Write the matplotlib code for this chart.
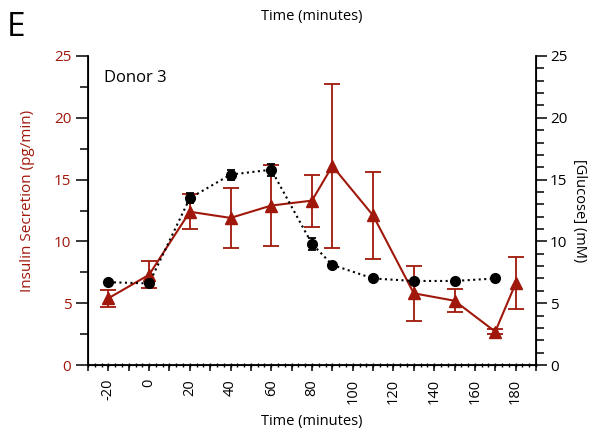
import numpy as np
import matplotlib
matplotlib.use("Agg")
import matplotlib.pyplot as plt
from matplotlib.ticker import MultipleLocator, FixedLocator

plt.rcParams['font.family'] = ['Open Sans', 'DejaVu Sans']

# insulin secretion (pg/min), donor 3
ins_time = [-20, 0, 20, 40, 60, 80, 90, 110, 130, 150, 170, 180]
ins_val = [5.4, 7.3, 12.4, 11.9, 12.9, 13.3, 16.1, 12.1, 5.8, 5.2, 2.7, 6.6]
ins_err = [0.7, 1.1, 1.4, 2.4, 3.3, 2.1, 6.6, 3.5, 2.2, 0.95, 0.2, 2.1]

# glucose (mM)
glu_time = [-20, 0, 20, 40, 60, 80, 90, 110, 130, 150, 170]
glu_val = [6.7, 6.6, 13.5, 15.4, 15.8, 9.8, 8.1, 7.0, 6.8, 6.8, 7.0]
glu_err = [0.15, 0.2, 0.4, 0.4, 0.5, 0.5, 0.2, 0.1, 0.1, 0.1, 0.1]

xticks = [-20, 0, 20, 40, 60, 80, 100, 120, 140, 160, 180]

red = '#a0180b'

fig = plt.figure(figsize=(5.97, 4.36), dpi=100)
ax = fig.add_axes([0.1474, 0.1628, 0.7504, 0.7088])

ax.errorbar(ins_time, ins_val, yerr=ins_err, color=red, lw=1.5, marker='^',
            ms=9, capsize=5.5, capthick=1.3, elinewidth=1.3, zorder=2)
ax.set_xlim(-30, 190)
ax.set_ylim(0, 25)
ax.set_ylabel('Insulin Secretion (pg/min)', color=red, fontsize=11)
ax.yaxis.set_label_coords(-0.118, 0.53)
ax.set_xlabel('Time (minutes)', fontsize=10.5, labelpad=7)
ax.yaxis.set_major_locator(MultipleLocator(5))
ax.yaxis.set_minor_locator(MultipleLocator(2.5))
ax.tick_params(axis='y', which='major', length=9, width=1.1, labelsize=11, labelcolor=red, pad=3)
ax.tick_params(axis='y', which='minor', length=5.5, width=1.1)
ax.set_xticks(xticks)
ax.set_xticklabels([str(t) for t in xticks], rotation=90)
ax.xaxis.set_minor_locator(MultipleLocator(10))
ax.tick_params(axis='x', which='both', length=4, width=1.1, labelsize=10.5, pad=6)
ax.spines['top'].set_visible(False)
for s in ['left', 'bottom']:
    ax.spines[s].set_linewidth(1.3)
ax.text(0.035, 0.955, 'Donor 3', transform=ax.transAxes, fontsize=12,
        va='top', ha='left')

# right axis: glucose
ax2 = ax.twinx()
ax2.errorbar(glu_time, glu_val, yerr=glu_err, color='black', lw=1.5, ls=':',
             marker='o', ms=7, capsize=3, capthick=1.3, elinewidth=1.3, zorder=3)
ax2.set_ylim(0, 25)
ax2.set_ylabel('[Glucose] (mM)', rotation=270, fontsize=10.5, labelpad=14)
ax2.yaxis.set_major_locator(MultipleLocator(5))
ax2.yaxis.set_minor_locator(MultipleLocator(1))
ax2.tick_params(axis='y', which='major', length=8, width=1.1, labelsize=11, pad=2)
ax2.tick_params(axis='y', which='minor', length=5.5, width=1.1)
ax2.spines['top'].set_visible(False)
ax2.spines['right'].set_linewidth(1.3)

# secondary time axis sharing the bottom spine, label on top
ax3 = ax.twiny()
ax3.set_xlim(-30, 190)
ax3.xaxis.set_ticks_position('bottom')
ax3.xaxis.set_major_locator(FixedLocator(np.arange(-30, 190.1, 10 / 3)))
ax3.tick_params(axis='x', which='major', direction='inout', length=3, width=1.0,
                labelbottom=False, labeltop=False)
ax3.set_xlabel('Time (minutes)', fontsize=10.5, labelpad=26)
ax3.xaxis.set_label_position('top')
for s in ['top', 'left', 'right', 'bottom']:
    ax3.spines[s].set_visible(False)

fig.text(0.012, 0.975, 'E', fontsize=24, va='top', ha='left')

fig.savefig('out.png', dpi=100)
